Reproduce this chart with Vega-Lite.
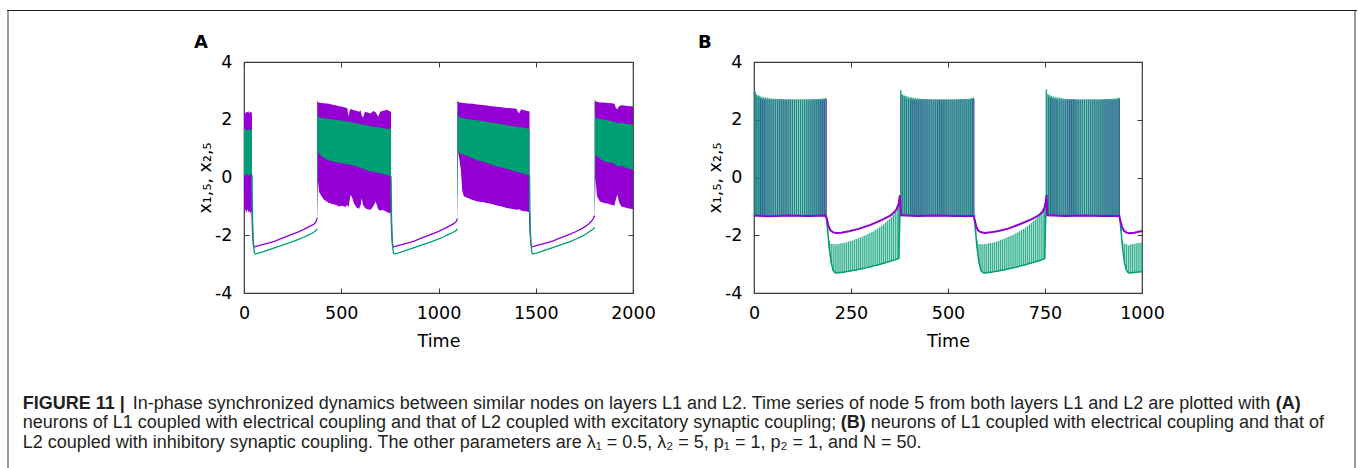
{
"$schema": "https://vega.github.io/schema/vega-lite/v6.json",
"padding": {"left": 7, "top": 10, "right": 0, "bottom": 0},
"background": "white",
"config": {
  "view": {"stroke": "#3a3a3a", "strokeWidth": 1.2},
  "axis": {"grid": false, "domain": false, "tickColor": "#3a3a3a", "tickSize": -5, "tickWidth": 1, "labelFont": "DejaVu Sans", "labelFontSize": 17.5, "labelColor": "#000", "titleFont": "DejaVu Sans", "titleFontSize": 17.5, "titleFontWeight": "normal", "titleColor": "#000", "labelFlush": false},
  "axisBottom": {"labelPadding": 16, "titlePadding": 11},
  "axisLeft": {"labelPadding": 17, "titlePadding": 0},
  "title": {"font": "DejaVu Sans", "fontSize": 18, "fontWeight": "bold", "color": "#000", "anchor": "start", "frame": "group", "baseline": "alphabetic", "offset": 1}
},
"datasets": {
  "cap": [
    {"part": "b1", "line": 1, "text": "FIGURE 11 |"},
    {"part": "n1", "line": 1, "text": "In-phase synchronized dynamics between similar nodes on layers L1 and L2. Time series of node 5 from both layers L1 and L2 are plotted with"},
    {"part": "bA", "line": 1, "text": "(A)"},
    {"part": "n0", "line": 2, "text": "neurons of L1 coupled with electrical coupling and that of L2 coupled with excitatory synaptic coupling;"},
    {"part": "bB", "line": 2, "text": "(B)"},
    {"part": "n2", "line": 2, "text": "neurons of L1 coupled with electrical coupling and that of"},
    {"part": "n0", "line": 3, "text": "L2 coupled with inhibitory synaptic coupling. The other parameters are λ₁ = 0.5, λ₂ = 5, p₁ = 1, p₂ = 1, and N = 50."}
  ],
  "aBandP": [
    {"g":1,"t":0,"lo":-1.2,"hi":2.25},{"g":1,"t":4,"lo":-1.05,"hi":2.3},{"g":1,"t":8,"lo":-1.15,"hi":2.2},{"g":1,"t":12,"lo":-1.22,"hi":2.28},{"g":1,"t":17,"lo":-1.1,"hi":2.25},{"g":1,"t":22,"lo":-1.2,"hi":2.3},{"g":1,"t":27,"lo":-1.15,"hi":2.22},{"g":1,"t":32,"lo":-1.25,"hi":2.28},{"g":1,"t":37,"lo":-1.18,"hi":2.25},{"g":1,"t":41,"lo":-1.2,"hi":2.26},
    {"g":2,"t":376,"lo":-1.45,"hi":2.67},{"g":2,"t":380,"lo":-0.1,"hi":2.6},{"g":2,"t":386,"lo":-0.5,"hi":2.6},{"g":2,"t":394,"lo":-0.6,"hi":2.58},{"g":2,"t":411,"lo":-0.77,"hi":2.57},{"g":2,"t":437,"lo":-0.88,"hi":2.55},{"g":2,"t":455,"lo":-0.92,"hi":2.52},{"g":2,"t":471,"lo":-0.94,"hi":2.5},{"g":2,"t":490,"lo":-1.0,"hi":2.47},{"g":2,"t":506,"lo":-0.98,"hi":2.45},{"g":2,"t":520,"lo":-1.02,"hi":2.42},{"g":2,"t":531,"lo":-0.95,"hi":2.4},{"g":2,"t":537,"lo":-1.05,"hi":2.12},{"g":2,"t":543,"lo":-0.8,"hi":2.3},{"g":2,"t":548,"lo":-0.6,"hi":2.38},{"g":2,"t":557,"lo":-0.72,"hi":2.35},{"g":2,"t":566,"lo":-0.9,"hi":2.33},{"g":2,"t":580,"lo":-1.05,"hi":2.3},{"g":2,"t":591,"lo":-1.08,"hi":2.28},{"g":2,"t":600,"lo":-0.95,"hi":2.32},{"g":2,"t":605,"lo":-0.72,"hi":2.15},{"g":2,"t":612,"lo":-0.95,"hi":2.08},{"g":2,"t":622,"lo":-1.06,"hi":2.28},{"g":2,"t":635,"lo":-1.1,"hi":2.25},{"g":2,"t":651,"lo":-1.12,"hi":2.22},{"g":2,"t":664,"lo":-1.0,"hi":2.3},{"g":2,"t":677,"lo":-0.83,"hi":2.26},{"g":2,"t":690,"lo":-1.1,"hi":2.1},{"g":2,"t":700,"lo":-1.15,"hi":2.28},{"g":2,"t":711,"lo":-1.12,"hi":2.3},{"g":2,"t":728,"lo":-1.17,"hi":2.33},{"g":2,"t":737,"lo":-1.2,"hi":2.35},{"g":2,"t":745,"lo":-1.23,"hi":2.3},{"g":2,"t":756,"lo":-1.22,"hi":2.28},
    {"g":3,"t":1097,"lo":-1.45,"hi":2.67},{"g":3,"t":1101,"lo":0.9,"hi":2.62},{"g":3,"t":1108,"lo":0.6,"hi":2.6},{"g":3,"t":1115,"lo":0.25,"hi":2.6},{"g":3,"t":1122,"lo":-0.45,"hi":2.58},{"g":3,"t":1130,"lo":-0.65,"hi":2.58},{"g":3,"t":1150,"lo":-0.71,"hi":2.56},{"g":3,"t":1175,"lo":-0.78,"hi":2.55},{"g":3,"t":1200,"lo":-0.83,"hi":2.53},{"g":3,"t":1225,"lo":-0.85,"hi":2.51},{"g":3,"t":1250,"lo":-0.88,"hi":2.49},{"g":3,"t":1275,"lo":-0.92,"hi":2.47},{"g":3,"t":1300,"lo":-0.97,"hi":2.45},{"g":3,"t":1325,"lo":-1.0,"hi":2.43},{"g":3,"t":1350,"lo":-1.06,"hi":2.41},{"g":3,"t":1375,"lo":-1.08,"hi":2.4},{"g":3,"t":1400,"lo":-1.12,"hi":2.38},{"g":3,"t":1414,"lo":-1.1,"hi":2.22},{"g":3,"t":1425,"lo":-1.14,"hi":2.36},{"g":3,"t":1440,"lo":-1.17,"hi":2.33},{"g":3,"t":1455,"lo":-1.18,"hi":2.3},{"g":3,"t":1468,"lo":-1.2,"hi":2.29},
    {"g":4,"t":1803,"lo":-1.35,"hi":2.72},{"g":4,"t":1807,"lo":-0.02,"hi":2.64},{"g":4,"t":1815,"lo":-0.65,"hi":2.62},{"g":4,"t":1830,"lo":-0.83,"hi":2.6},{"g":4,"t":1850,"lo":-0.88,"hi":2.6},{"g":4,"t":1870,"lo":-0.9,"hi":2.58},{"g":4,"t":1890,"lo":-0.95,"hi":2.57},{"g":4,"t":1905,"lo":-0.97,"hi":2.55},{"g":4,"t":1912,"lo":-0.75,"hi":2.4},{"g":4,"t":1920,"lo":-0.6,"hi":2.37},{"g":4,"t":1928,"lo":-0.85,"hi":2.47},{"g":4,"t":1940,"lo":-1.0,"hi":2.5},{"g":4,"t":1955,"lo":-1.03,"hi":2.49},{"g":4,"t":1970,"lo":-1.06,"hi":2.48},{"g":4,"t":1985,"lo":-1.08,"hi":2.47},{"g":4,"t":2000,"lo":-1.09,"hi":2.46}
  ],
  "aBandG": [
    {"g":1,"t":0,"lo":0.15,"hi":1.65},{"g":1,"t":8,"lo":0.05,"hi":1.7},{"g":1,"t":16,"lo":0.12,"hi":1.62},{"g":1,"t":24,"lo":0.06,"hi":1.68},{"g":1,"t":32,"lo":0.1,"hi":1.64},{"g":1,"t":41,"lo":0.1,"hi":1.66},
    {"g":2,"t":376,"lo":-1.8,"hi":2.65},{"g":2,"t":380,"lo":0.9,"hi":2.1},{"g":2,"t":400,"lo":0.73,"hi":2.06},{"g":2,"t":425,"lo":0.62,"hi":2.04},{"g":2,"t":450,"lo":0.56,"hi":2.02},{"g":2,"t":475,"lo":0.52,"hi":1.99},{"g":2,"t":500,"lo":0.5,"hi":1.97},{"g":2,"t":525,"lo":0.46,"hi":1.95},{"g":2,"t":550,"lo":0.44,"hi":1.92},{"g":2,"t":575,"lo":0.38,"hi":1.88},{"g":2,"t":600,"lo":0.33,"hi":1.85},{"g":2,"t":625,"lo":0.27,"hi":1.82},{"g":2,"t":650,"lo":0.21,"hi":1.78},{"g":2,"t":675,"lo":0.18,"hi":1.75},{"g":2,"t":700,"lo":0.15,"hi":1.73},{"g":2,"t":725,"lo":0.1,"hi":1.7},{"g":2,"t":756,"lo":0.04,"hi":1.68},
    {"g":3,"t":1097,"lo":-1.8,"hi":2.65},{"g":3,"t":1101,"lo":0.88,"hi":2.1},{"g":3,"t":1125,"lo":0.8,"hi":2.06},{"g":3,"t":1150,"lo":0.74,"hi":2.03},{"g":3,"t":1175,"lo":0.67,"hi":2.0},{"g":3,"t":1200,"lo":0.6,"hi":1.98},{"g":3,"t":1250,"lo":0.5,"hi":1.93},{"g":3,"t":1300,"lo":0.38,"hi":1.88},{"g":3,"t":1350,"lo":0.3,"hi":1.82},{"g":3,"t":1400,"lo":0.2,"hi":1.76},{"g":3,"t":1440,"lo":0.13,"hi":1.72},{"g":3,"t":1468,"lo":0.08,"hi":1.68},
    {"g":4,"t":1803,"lo":-1.75,"hi":2.7},{"g":4,"t":1807,"lo":0.79,"hi":2.06},{"g":4,"t":1830,"lo":0.65,"hi":2.03},{"g":4,"t":1850,"lo":0.56,"hi":2.0},{"g":4,"t":1875,"lo":0.52,"hi":1.97},{"g":4,"t":1900,"lo":0.5,"hi":1.94},{"g":4,"t":1915,"lo":0.4,"hi":1.9},{"g":4,"t":1925,"lo":0.38,"hi":1.88},{"g":4,"t":1940,"lo":0.42,"hi":1.9},{"g":4,"t":1960,"lo":0.35,"hi":1.87},{"g":4,"t":1980,"lo":0.3,"hi":1.85},{"g":4,"t":2000,"lo":0.27,"hi":1.83}
  ],
  "aLineP": [
    {"g":1,"t":41,"v":-1.2},{"g":1,"t":44,"v":-1.9},{"g":1,"t":48,"v":-2.3},{"g":1,"t":53,"v":-2.4},{"g":1,"t":60,"v":-2.39},{"g":1,"t":80,"v":-2.35},{"g":1,"t":100,"v":-2.32},{"g":1,"t":130,"v":-2.26},{"g":1,"t":160,"v":-2.2},{"g":1,"t":190,"v":-2.12},{"g":1,"t":220,"v":-2.04},{"g":1,"t":250,"v":-1.96},{"g":1,"t":280,"v":-1.88},{"g":1,"t":310,"v":-1.79},{"g":1,"t":335,"v":-1.7},{"g":1,"t":350,"v":-1.65},{"g":1,"t":362,"v":-1.6},{"g":1,"t":370,"v":-1.53},{"g":1,"t":374,"v":-1.45},{"g":1,"t":376,"v":-1.4},
    {"g":2,"t":756,"v":-1.22},{"g":2,"t":759,"v":-1.9},{"g":2,"t":763,"v":-2.3},{"g":2,"t":768,"v":-2.4},{"g":2,"t":775,"v":-2.39},{"g":2,"t":795,"v":-2.35},{"g":2,"t":815,"v":-2.32},{"g":2,"t":845,"v":-2.26},{"g":2,"t":875,"v":-2.2},{"g":2,"t":905,"v":-2.12},{"g":2,"t":935,"v":-2.04},{"g":2,"t":965,"v":-1.96},{"g":2,"t":995,"v":-1.88},{"g":2,"t":1025,"v":-1.79},{"g":2,"t":1050,"v":-1.7},{"g":2,"t":1065,"v":-1.65},{"g":2,"t":1080,"v":-1.59},{"g":2,"t":1090,"v":-1.53},{"g":2,"t":1095,"v":-1.46},{"g":2,"t":1097,"v":-1.42},
    {"g":3,"t":1468,"v":-1.2},{"g":3,"t":1471,"v":-1.9},{"g":3,"t":1475,"v":-2.3},{"g":3,"t":1480,"v":-2.4},{"g":3,"t":1487,"v":-2.39},{"g":3,"t":1507,"v":-2.35},{"g":3,"t":1527,"v":-2.32},{"g":3,"t":1557,"v":-2.26},{"g":3,"t":1587,"v":-2.2},{"g":3,"t":1617,"v":-2.12},{"g":3,"t":1647,"v":-2.04},{"g":3,"t":1677,"v":-1.96},{"g":3,"t":1707,"v":-1.87},{"g":3,"t":1737,"v":-1.77},{"g":3,"t":1760,"v":-1.67},{"g":3,"t":1775,"v":-1.59},{"g":3,"t":1788,"v":-1.5},{"g":3,"t":1796,"v":-1.42},{"g":3,"t":1800,"v":-1.36},{"g":3,"t":1803,"v":-1.32}
  ],
  "aLineG": [
    {"g":1,"t":41,"v":0.1},{"g":1,"t":44,"v":-1.5},{"g":1,"t":48,"v":-2.3},{"g":1,"t":53,"v":-2.6},{"g":1,"t":58,"v":-2.65},{"g":1,"t":80,"v":-2.61},{"g":1,"t":100,"v":-2.57},{"g":1,"t":130,"v":-2.5},{"g":1,"t":160,"v":-2.43},{"g":1,"t":190,"v":-2.36},{"g":1,"t":220,"v":-2.29},{"g":1,"t":250,"v":-2.22},{"g":1,"t":280,"v":-2.14},{"g":1,"t":310,"v":-2.06},{"g":1,"t":335,"v":-1.98},{"g":1,"t":350,"v":-1.93},{"g":1,"t":362,"v":-1.88},{"g":1,"t":370,"v":-1.84},{"g":1,"t":374,"v":-1.8},{"g":1,"t":376,"v":-1.78},
    {"g":2,"t":756,"v":0.04},{"g":2,"t":759,"v":-1.5},{"g":2,"t":763,"v":-2.3},{"g":2,"t":768,"v":-2.6},{"g":2,"t":773,"v":-2.65},{"g":2,"t":795,"v":-2.61},{"g":2,"t":815,"v":-2.57},{"g":2,"t":845,"v":-2.5},{"g":2,"t":875,"v":-2.43},{"g":2,"t":905,"v":-2.36},{"g":2,"t":935,"v":-2.29},{"g":2,"t":965,"v":-2.22},{"g":2,"t":995,"v":-2.14},{"g":2,"t":1025,"v":-2.06},{"g":2,"t":1050,"v":-1.98},{"g":2,"t":1065,"v":-1.93},{"g":2,"t":1080,"v":-1.88},{"g":2,"t":1090,"v":-1.84},{"g":2,"t":1095,"v":-1.8},{"g":2,"t":1097,"v":-1.78},
    {"g":3,"t":1468,"v":0.08},{"g":3,"t":1471,"v":-1.5},{"g":3,"t":1475,"v":-2.3},{"g":3,"t":1480,"v":-2.6},{"g":3,"t":1485,"v":-2.65},{"g":3,"t":1507,"v":-2.61},{"g":3,"t":1527,"v":-2.57},{"g":3,"t":1557,"v":-2.5},{"g":3,"t":1587,"v":-2.43},{"g":3,"t":1617,"v":-2.36},{"g":3,"t":1647,"v":-2.29},{"g":3,"t":1677,"v":-2.22},{"g":3,"t":1707,"v":-2.13},{"g":3,"t":1737,"v":-2.04},{"g":3,"t":1760,"v":-1.95},{"g":3,"t":1775,"v":-1.88},{"g":3,"t":1788,"v":-1.82},{"g":3,"t":1796,"v":-1.78},{"g":3,"t":1800,"v":-1.75},{"g":3,"t":1803,"v":-1.73}
  ],
  "bBurst": [
    {"t":1.5,"h":3.05,"p":3.2,"ph":2.95},{"t":6,"h":2.88,"p":7.8,"ph":2.8},{"t":10.5,"h":2.85,"p":12.3,"ph":2.76},{"t":15,"h":2.83,"p":16.8,"ph":2.74},{"t":20,"h":2.8,"p":21.8,"ph":2.72},{"t":25,"h":2.78,"p":26.8,"ph":2.71},{"t":29.5,"h":2.77,"p":31.3,"ph":2.7},{"t":34.5,"h":2.76,"p":36.3,"ph":2.7},{"t":39.5,"h":2.75,"p":41.3,"ph":2.7},{"t":44.5,"h":2.74,"p":46.3,"ph":2.7},{"t":49.5,"h":2.73,"p":50.9,"ph":2.7},{"t":54.5,"h":2.73,"p":55.8,"ph":2.7},{"t":59.5,"h":2.72,"p":60.7,"ph":2.7},{"t":64.5,"h":2.72,"p":65.6,"ph":2.7},{"t":69.5,"h":2.72,"p":70.5,"ph":2.7},{"t":74.5,"h":2.72,"p":75.4,"ph":2.7},{"t":79.5,"h":2.71,"p":80.3,"ph":2.69},{"t":84.5,"h":2.71,"p":85.1,"ph":2.69},{"t":89.5,"h":2.71,"p":89.9,"ph":2.69},{"t":94.5,"h":2.71,"p":94.7,"ph":2.69},{"t":99.5,"h":2.71,"p":99.6,"ph":2.69},{"t":104.5,"h":2.71,"p":104.6,"ph":2.69},{"t":109.5,"h":2.71,"p":109.7,"ph":2.69},{"t":114.5,"h":2.71,"p":114.8,"ph":2.69},{"t":119.5,"h":2.71,"p":120.0,"ph":2.69},{"t":124.5,"h":2.71,"p":125.3,"ph":2.69},{"t":129.5,"h":2.71,"p":130.7,"ph":2.69},{"t":134.5,"h":2.71,"p":136.2,"ph":2.69},{"t":139.5,"h":2.71,"p":141.5,"ph":2.69},{"t":144.5,"h":2.71,"p":146.6,"ph":2.69},{"t":149.5,"h":2.72,"p":151.7,"ph":2.7},{"t":154.5,"h":2.72,"p":156.7,"ph":2.7},{"t":159.5,"h":2.72,"p":161.7,"ph":2.7},{"t":164.5,"h":2.72,"p":166.7,"ph":2.7},{"t":169.5,"h":2.73,"p":171.7,"ph":2.7},{"t":174.5,"h":2.73,"p":176.6,"ph":2.7},{"t":179.5,"h":2.74,"p":181.5,"ph":2.71},{"t":184.5,"h":2.76,"p":186.2,"ph":2.72},
    {"t":378.5,"h":3.03,"p":379.0,"ph":2.9},{"t":383,"h":2.87,"p":383.6,"ph":2.8},{"t":387.5,"h":2.84,"p":388.3,"ph":2.76},{"t":392,"h":2.82,"p":393.0,"ph":2.74},{"t":397,"h":2.8,"p":398.2,"ph":2.72},{"t":402,"h":2.78,"p":403.4,"ph":2.71},{"t":406.5,"h":2.77,"p":408.1,"ph":2.7},{"t":411.5,"h":2.76,"p":413.3,"ph":2.7},{"t":416.5,"h":2.75,"p":418.4,"ph":2.7},{"t":421.5,"h":2.74,"p":423.5,"ph":2.7},{"t":426.5,"h":2.73,"p":428.6,"ph":2.7},{"t":431.5,"h":2.73,"p":433.7,"ph":2.7},{"t":436.5,"h":2.72,"p":438.7,"ph":2.7},{"t":441.5,"h":2.72,"p":443.7,"ph":2.7},{"t":446.5,"h":2.72,"p":448.6,"ph":2.7},{"t":451.5,"h":2.72,"p":453.5,"ph":2.7},{"t":456.5,"h":2.71,"p":458.4,"ph":2.69},{"t":461.5,"h":2.71,"p":463.3,"ph":2.69},{"t":466.5,"h":2.71,"p":468.2,"ph":2.69},{"t":471.5,"h":2.71,"p":473.1,"ph":2.69},{"t":476.5,"h":2.71,"p":478.0,"ph":2.69},{"t":481.5,"h":2.71,"p":482.9,"ph":2.69},{"t":486.5,"h":2.71,"p":487.8,"ph":2.69},{"t":491.5,"h":2.71,"p":492.7,"ph":2.69},{"t":496.5,"h":2.71,"p":497.6,"ph":2.69},{"t":501.5,"h":2.71,"p":502.6,"ph":2.69},{"t":506.5,"h":2.71,"p":507.8,"ph":2.69},{"t":511.5,"h":2.71,"p":513.0,"ph":2.69},{"t":516.5,"h":2.71,"p":518.2,"ph":2.69},{"t":521.5,"h":2.71,"p":523.4,"ph":2.69},{"t":526.5,"h":2.72,"p":528.5,"ph":2.7},{"t":531.5,"h":2.72,"p":533.6,"ph":2.7},{"t":536.5,"h":2.72,"p":538.7,"ph":2.7},{"t":541.5,"h":2.72,"p":543.7,"ph":2.7},{"t":546.5,"h":2.73,"p":548.6,"ph":2.7},{"t":551.5,"h":2.73,"p":553.5,"ph":2.7},{"t":556.5,"h":2.74,"p":558.4,"ph":2.71},{"t":561.5,"h":2.75,"p":563.2,"ph":2.72},{"t":565.5,"h":2.77,"p":566.8,"ph":2.72},
    {"t":753.5,"h":3.05,"p":754.2,"ph":2.92},{"t":758,"h":2.88,"p":759.2,"ph":2.8},{"t":762.5,"h":2.85,"p":764.2,"ph":2.76},{"t":767,"h":2.83,"p":768.9,"ph":2.74},{"t":772,"h":2.8,"p":774.0,"ph":2.72},{"t":777,"h":2.78,"p":779.0,"ph":2.71},{"t":781.5,"h":2.77,"p":783.5,"ph":2.7},{"t":786.5,"h":2.76,"p":788.5,"ph":2.7},{"t":791.5,"h":2.75,"p":793.5,"ph":2.7},{"t":796.5,"h":2.74,"p":798.5,"ph":2.7},{"t":801.5,"h":2.73,"p":803.5,"ph":2.7},{"t":806.5,"h":2.73,"p":808.4,"ph":2.7},{"t":811.5,"h":2.72,"p":813.3,"ph":2.7},{"t":816.5,"h":2.72,"p":818.2,"ph":2.7},{"t":821.5,"h":2.72,"p":823.1,"ph":2.7},{"t":826.5,"h":2.72,"p":827.9,"ph":2.7},{"t":831.5,"h":2.71,"p":832.7,"ph":2.69},{"t":836.5,"h":2.71,"p":837.5,"ph":2.69},{"t":841.5,"h":2.71,"p":842.3,"ph":2.69},{"t":846.5,"h":2.71,"p":847.1,"ph":2.69},{"t":851.5,"h":2.71,"p":851.9,"ph":2.69},{"t":856.5,"h":2.71,"p":856.8,"ph":2.69},{"t":861.5,"h":2.71,"p":861.7,"ph":2.69},{"t":866.5,"h":2.71,"p":866.6,"ph":2.69},{"t":871.5,"h":2.71,"p":871.6,"ph":2.69},{"t":876.5,"h":2.71,"p":876.7,"ph":2.69},{"t":881.5,"h":2.71,"p":881.8,"ph":2.69},{"t":886.5,"h":2.71,"p":887.0,"ph":2.69},{"t":891.5,"h":2.71,"p":892.2,"ph":2.69},{"t":896.5,"h":2.71,"p":897.4,"ph":2.69},{"t":901.5,"h":2.72,"p":902.6,"ph":2.7},{"t":906.5,"h":2.72,"p":907.8,"ph":2.7},{"t":911.5,"h":2.72,"p":913.0,"ph":2.7},{"t":916.5,"h":2.72,"p":918.2,"ph":2.7},{"t":921.5,"h":2.73,"p":923.4,"ph":2.7},{"t":926.5,"h":2.73,"p":928.5,"ph":2.7},{"t":931.5,"h":2.74,"p":933.5,"ph":2.71},{"t":936.5,"h":2.75,"p":938.4,"ph":2.72},{"t":940.5,"h":2.77,"p":942.0,"ph":2.72}
  ],
  "bQ": [
    {"q":1,"t":186,"lo":-1.3,"hi":-1.3},{"q":1,"t":190,"lo":-1.85,"hi":-1.7},{"q":1,"t":194,"lo":-2.45,"hi":-2.2},{"q":1,"t":199,"lo":-2.95,"hi":-2.3},{"q":1,"t":204,"lo":-3.22,"hi":-2.3},{"q":1,"t":209,"lo":-3.3,"hi":-2.32},{"q":1,"t":214,"lo":-3.31,"hi":-2.3},{"q":1,"t":219,"lo":-3.3,"hi":-2.3},{"q":1,"t":224,"lo":-3.29,"hi":-2.28},{"q":1,"t":229,"lo":-3.28,"hi":-2.27},{"q":1,"t":234,"lo":-3.27,"hi":-2.26},{"q":1,"t":239,"lo":-3.26,"hi":-2.24},{"q":1,"t":244,"lo":-3.25,"hi":-2.22},{"q":1,"t":249,"lo":-3.24,"hi":-2.2},{"q":1,"t":254,"lo":-3.22,"hi":-2.18},{"q":1,"t":259,"lo":-3.21,"hi":-2.15},{"q":1,"t":264,"lo":-3.2,"hi":-2.13},{"q":1,"t":269,"lo":-3.18,"hi":-2.1},{"q":1,"t":274,"lo":-3.17,"hi":-2.08},{"q":1,"t":279,"lo":-3.16,"hi":-2.05},{"q":1,"t":284,"lo":-3.14,"hi":-2.02},{"q":1,"t":289,"lo":-3.13,"hi":-1.99},{"q":1,"t":294,"lo":-3.11,"hi":-1.96},{"q":1,"t":299,"lo":-3.1,"hi":-1.92},{"q":1,"t":304,"lo":-3.08,"hi":-1.89},{"q":1,"t":309,"lo":-3.06,"hi":-1.85},{"q":1,"t":314,"lo":-3.05,"hi":-1.81},{"q":1,"t":319,"lo":-3.03,"hi":-1.77},{"q":1,"t":324,"lo":-3.01,"hi":-1.72},{"q":1,"t":329,"lo":-2.99,"hi":-1.67},{"q":1,"t":334,"lo":-2.97,"hi":-1.62},{"q":1,"t":339,"lo":-2.95,"hi":-1.56},{"q":1,"t":344,"lo":-2.93,"hi":-1.5},{"q":1,"t":349,"lo":-2.91,"hi":-1.44},{"q":1,"t":354,"lo":-2.89,"hi":-1.37},{"q":1,"t":359,"lo":-2.87,"hi":-1.29},{"q":1,"t":364,"lo":-2.85,"hi":-1.2},{"q":1,"t":369,"lo":-2.82,"hi":-1.07},{"q":1,"t":373,"lo":-2.8,"hi":-0.9},{"q":1,"t":376,"lo":-1.3,"hi":-0.8},
    {"q":2,"t":567,"lo":-1.3,"hi":-1.3},{"q":2,"t":571,"lo":-1.85,"hi":-1.7},{"q":2,"t":575,"lo":-2.45,"hi":-2.2},{"q":2,"t":580,"lo":-2.95,"hi":-2.3},{"q":2,"t":585,"lo":-3.22,"hi":-2.3},{"q":2,"t":590,"lo":-3.3,"hi":-2.32},{"q":2,"t":595,"lo":-3.31,"hi":-2.3},{"q":2,"t":600,"lo":-3.3,"hi":-2.3},{"q":2,"t":605,"lo":-3.29,"hi":-2.28},{"q":2,"t":610,"lo":-3.28,"hi":-2.27},{"q":2,"t":615,"lo":-3.27,"hi":-2.26},{"q":2,"t":620,"lo":-3.26,"hi":-2.24},{"q":2,"t":625,"lo":-3.25,"hi":-2.22},{"q":2,"t":630,"lo":-3.24,"hi":-2.2},{"q":2,"t":635,"lo":-3.22,"hi":-2.17},{"q":2,"t":640,"lo":-3.21,"hi":-2.14},{"q":2,"t":645,"lo":-3.2,"hi":-2.12},{"q":2,"t":650,"lo":-3.18,"hi":-2.09},{"q":2,"t":655,"lo":-3.17,"hi":-2.06},{"q":2,"t":660,"lo":-3.15,"hi":-2.03},{"q":2,"t":665,"lo":-3.14,"hi":-2.0},{"q":2,"t":670,"lo":-3.12,"hi":-1.97},{"q":2,"t":675,"lo":-3.11,"hi":-1.93},{"q":2,"t":680,"lo":-3.09,"hi":-1.9},{"q":2,"t":685,"lo":-3.07,"hi":-1.86},{"q":2,"t":690,"lo":-3.05,"hi":-1.82},{"q":2,"t":695,"lo":-3.04,"hi":-1.78},{"q":2,"t":700,"lo":-3.02,"hi":-1.73},{"q":2,"t":705,"lo":-3.0,"hi":-1.68},{"q":2,"t":710,"lo":-2.98,"hi":-1.63},{"q":2,"t":715,"lo":-2.96,"hi":-1.57},{"q":2,"t":720,"lo":-2.94,"hi":-1.51},{"q":2,"t":725,"lo":-2.92,"hi":-1.45},{"q":2,"t":730,"lo":-2.9,"hi":-1.38},{"q":2,"t":735,"lo":-2.88,"hi":-1.3},{"q":2,"t":740,"lo":-2.86,"hi":-1.21},{"q":2,"t":745,"lo":-2.83,"hi":-1.08},{"q":2,"t":749,"lo":-2.8,"hi":-0.92},{"q":2,"t":752,"lo":-1.3,"hi":-0.8},
    {"q":3,"t":942,"lo":-1.3,"hi":-1.3},{"q":3,"t":946,"lo":-1.85,"hi":-1.7},{"q":3,"t":950,"lo":-2.45,"hi":-2.2},{"q":3,"t":955,"lo":-2.95,"hi":-2.3},{"q":3,"t":960,"lo":-3.22,"hi":-2.3},{"q":3,"t":965,"lo":-3.3,"hi":-2.35},{"q":3,"t":970,"lo":-3.31,"hi":-2.32},{"q":3,"t":975,"lo":-3.3,"hi":-2.3},{"q":3,"t":980,"lo":-3.29,"hi":-2.3},{"q":3,"t":985,"lo":-3.28,"hi":-2.28},{"q":3,"t":990,"lo":-3.27,"hi":-2.27},{"q":3,"t":995,"lo":-3.27,"hi":-2.26},{"q":3,"t":1000,"lo":-3.26,"hi":-2.25}
  ],
  "bP": [
    {"t":0,"v":-1.32},{"t":40,"v":-1.34},{"t":90,"v":-1.32},{"t":140,"v":-1.33},{"t":184,"v":-1.32},{"t":188,"v":-1.45},{"t":192,"v":-1.68},{"t":197,"v":-1.83},{"t":204,"v":-1.9},{"t":212,"v":-1.92},{"t":225,"v":-1.91},{"t":245,"v":-1.86},{"t":270,"v":-1.78},{"t":300,"v":-1.64},{"t":330,"v":-1.47},{"t":350,"v":-1.33},{"t":362,"v":-1.2},{"t":368,"v":-1.08},{"t":373,"v":-0.9},{"t":376,"v":-0.62},{"t":378.5,"v":-1.3},{"t":420,"v":-1.33},{"t":470,"v":-1.32},{"t":520,"v":-1.33},{"t":566,"v":-1.33},{"t":569,"v":-1.48},{"t":573,"v":-1.7},{"t":578,"v":-1.84},{"t":585,"v":-1.9},{"t":595,"v":-1.92},{"t":610,"v":-1.9},{"t":630,"v":-1.85},{"t":655,"v":-1.77},{"t":685,"v":-1.62},{"t":715,"v":-1.45},{"t":735,"v":-1.3},{"t":744,"v":-1.18},{"t":749,"v":-1.04},{"t":752,"v":-0.85},{"t":754,"v":-0.6},{"t":756,"v":-1.3},{"t":800,"v":-1.33},{"t":850,"v":-1.32},{"t":900,"v":-1.33},{"t":941,"v":-1.33},{"t":944,"v":-1.48},{"t":948,"v":-1.7},{"t":953,"v":-1.84},{"t":960,"v":-1.91},{"t":968,"v":-1.93},{"t":980,"v":-1.91},{"t":1000,"v":-1.85}
  ]
},
"spacing": 0,
"vconcat": [
  {"width": 1350, "height": 1, "view": {"fill": "#222222", "stroke": null}, "data": {"values": []}, "mark": "text", "encoding": {}},
  {
    "spacing": 0,
    "hconcat": [
      {"width": 2, "height": 470, "view": {"fill": "#999999", "stroke": null}, "data": {"values": []}, "mark": "text", "encoding": {}},
      {
        "spacing": 0,
        "vconcat": [
          {"width": 1, "height": 22, "view": {"stroke": null}, "data": {"values": []}, "mark": "text", "encoding": {}},
          {
            "spacing": 41,
            "hconcat": [
              {"width": 143, "height": 1, "view": {"stroke": null}, "data": {"values": []}, "mark": "text", "encoding": {}},
              {
                "width": 389, "height": 231,
                "title": {"text": "A", "dx": -50},
                "resolve": {"axis": {"x": "independent", "y": "independent"}},
                "layer": [
                  {
                    "data": {"name": "aBandP"},
                    "mark": {"type": "area", "color": "#9400D3", "interpolate": "linear"},
                    "encoding": {
                      "x": {"field": "t", "type": "quantitative", "scale": {"domain": [0, 2000], "nice": false, "zero": false}, "axis": {"values": [0, 500, 1000, 1500, 2000], "format": "d", "title": "Time"}},
                      "y": {"field": "hi", "type": "quantitative", "scale": {"domain": [-4, 4], "nice": false, "zero": false}, "axis": {"values": [-4, -2, 0, 2, 4], "format": "d", "labelExpr": "replace(datum.label, '\u2212', '-')", "title": "x₁,₅, x₂,₅"}},
                      "y2": {"field": "lo"},
                      "detail": {"field": "g"}
                    }
                  },
                  {
                    "data": {"name": "aLineP"},
                    "mark": {"type": "line", "color": "#9400D3", "strokeWidth": 1.3},
                    "encoding": {
                      "x": {"field": "t", "type": "quantitative", "scale": {"domain": [0, 2000], "nice": false, "zero": false}, "axis": {"orient": "top", "values": [0, 500, 1000, 1500, 2000], "labels": false, "title": null}},
                      "y": {"field": "v", "type": "quantitative", "scale": {"domain": [-4, 4], "nice": false, "zero": false}, "axis": {"orient": "right", "values": [-4, -2, 0, 2, 4], "labels": false, "title": null}},
                      "detail": {"field": "g"}
                    }
                  },
                  {
                    "data": {"name": "aBandG"},
                    "mark": {"type": "area", "color": "#009E73", "interpolate": "linear"},
                    "encoding": {
                      "x": {"field": "t", "type": "quantitative", "scale": {"domain": [0, 2000], "nice": false, "zero": false}, "axis": null},
                      "y": {"field": "hi", "type": "quantitative", "scale": {"domain": [-4, 4], "nice": false, "zero": false}, "axis": null},
                      "y2": {"field": "lo"},
                      "detail": {"field": "g"}
                    }
                  },
                  {
                    "data": {"name": "aLineG"},
                    "mark": {"type": "line", "color": "#009E73", "strokeWidth": 1.3},
                    "encoding": {
                      "x": {"field": "t", "type": "quantitative", "scale": {"domain": [0, 2000], "nice": false, "zero": false}, "axis": null},
                      "y": {"field": "v", "type": "quantitative", "scale": {"domain": [-4, 4], "nice": false, "zero": false}, "axis": null},
                      "detail": {"field": "g"}
                    }
                  }
                ]
              },
              {
                "width": 388, "height": 231,
                "title": {"text": "B", "dx": -56},
                "resolve": {"axis": {"x": "independent", "y": "independent"}},
                "layer": [
                  {
                    "data": {"name": "bBurst"},
                    "mark": {"type": "rule", "color": "#9400D3", "strokeWidth": 1},
                    "encoding": {
                      "x": {"field": "p", "type": "quantitative", "scale": {"domain": [0, 1000], "nice": false, "zero": false}, "axis": {"values": [0, 250, 500, 750, 1000], "format": "d", "title": "Time"}},
                      "y": {"field": "ph", "type": "quantitative", "scale": {"domain": [-4, 4], "nice": false, "zero": false}, "axis": {"values": [-4, -2, 0, 2, 4], "format": "d", "labelExpr": "replace(datum.label, '\u2212', '-')", "title": "x₁,₅, x₂,₅"}},
                      "y2": {"datum": -1.35}
                    }
                  },
                  {
                    "data": {"name": "bBurst"},
                    "mark": {"type": "rule", "color": "#009E73", "strokeWidth": 1.5, "opacity": 0.85},
                    "encoding": {
                      "x": {"field": "t", "type": "quantitative", "scale": {"domain": [0, 1000], "nice": false, "zero": false}, "axis": {"orient": "top", "values": [0, 250, 500, 750, 1000], "labels": false, "title": null}},
                      "y": {"field": "h", "type": "quantitative", "scale": {"domain": [-4, 4], "nice": false, "zero": false}, "axis": {"orient": "right", "values": [-4, -2, 0, 2, 4], "labels": false, "title": null}},
                      "y2": {"datum": -1.3}
                    }
                  },
                  {
                    "data": {"name": "bQ"},
                    "mark": {"type": "rule", "color": "#009E73", "strokeWidth": 1.4, "opacity": 0.8},
                    "encoding": {
                      "x": {"field": "t", "type": "quantitative", "scale": {"domain": [0, 1000], "nice": false, "zero": false}, "axis": null},
                      "y": {"field": "lo", "type": "quantitative", "scale": {"domain": [-4, 4], "nice": false, "zero": false}, "axis": null},
                      "y2": {"field": "hi"}
                    }
                  },
                  {
                    "data": {"name": "bQ"},
                    "mark": {"type": "line", "color": "#009E73", "strokeWidth": 1.5},
                    "encoding": {
                      "x": {"field": "t", "type": "quantitative", "scale": {"domain": [0, 1000], "nice": false, "zero": false}, "axis": null},
                      "y": {"field": "lo", "type": "quantitative", "scale": {"domain": [-4, 4], "nice": false, "zero": false}, "axis": null},
                      "detail": {"field": "q"}
                    }
                  },
                  {
                    "data": {"name": "bP"},
                    "mark": {"type": "line", "color": "#9400D3", "strokeWidth": 2},
                    "encoding": {
                      "x": {"field": "t", "type": "quantitative", "scale": {"domain": [0, 1000], "nice": false, "zero": false}, "axis": null},
                      "y": {"field": "v", "type": "quantitative", "scale": {"domain": [-4, 4], "nice": false, "zero": false}, "axis": null}
                    }
                  }
                ]
              }
            ]
          },
          {
            "width": 1345, "height": 110,
            "view": {"stroke": null},
            "data": {"name": "cap"},
            "encoding": {
              "x": {"datum": 1.02, "type": "quantitative", "scale": {"domain": [0, 100], "nice": false, "zero": false}, "axis": null},
              "y": {"field": "line", "type": "quantitative", "scale": {"domain": [-2.03, 3.70], "reverse": true, "nice": false, "zero": false}, "axis": null},
              "text": {"field": "text"}
            },
            "layer": [
              {"transform": [{"filter": "datum.part == 'b1'"}], "mark": {"type": "text", "font": "Liberation Sans", "fontSize": 18, "fontWeight": "bold", "align": "left", "baseline": "alphabetic", "color": "#231f20"}},
              {"transform": [{"filter": "datum.part == 'n0'"}], "mark": {"type": "text", "font": "Liberation Sans", "fontSize": 18, "align": "left", "baseline": "alphabetic", "color": "#231f20"}},
              {"transform": [{"filter": "datum.part == 'n1'"}], "mark": {"type": "text", "font": "Liberation Sans", "fontSize": 18, "align": "left", "baseline": "alphabetic", "color": "#231f20", "dx": 110}},
              {"transform": [{"filter": "datum.part == 'bA'"}], "mark": {"type": "text", "font": "Liberation Sans", "fontSize": 18, "fontWeight": "bold", "align": "left", "baseline": "alphabetic", "color": "#231f20", "dx": 1253}},
              {"transform": [{"filter": "datum.part == 'bB'"}], "mark": {"type": "text", "font": "Liberation Sans", "fontSize": 18, "fontWeight": "bold", "align": "left", "baseline": "alphabetic", "color": "#231f20", "dx": 818}},
              {"transform": [{"filter": "datum.part == 'n2'"}], "mark": {"type": "text", "font": "Liberation Sans", "fontSize": 18, "align": "left", "baseline": "alphabetic", "color": "#231f20", "dx": 848}}
            ]
          }
        ]
      },
      {"width": 2, "height": 470, "view": {"fill": "#999999", "stroke": null}, "data": {"values": []}, "mark": "text", "encoding": {}}
    ]
  }
]
}
